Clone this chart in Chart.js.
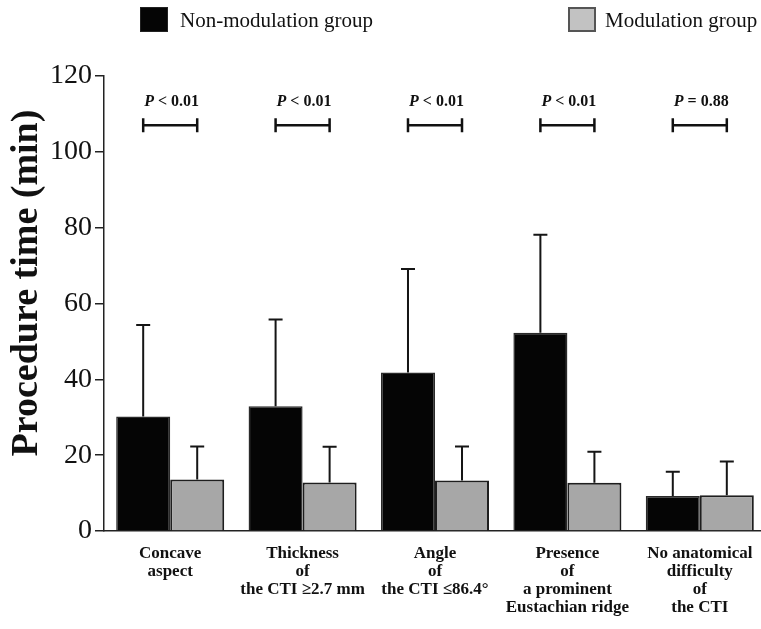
<!DOCTYPE html>
<html>
<head>
<meta charset="utf-8">
<script src="https://cdn.jsdelivr.net/npm/chart.js@4/dist/chart.umd.min.js"></script>
<style>
  html, body { margin: 0; padding: 0; background: #fff; overflow: hidden; width: 761px; height: 629px; }
  #wrap { position: relative; width: 768px; height: 629px; }
  canvas { position: absolute; left: 0; top: 0; }
  .leg { position: absolute; top: 7px; font-family: "Liberation Serif", "Times New Roman", serif; font-size: 21px; color: #111; line-height: 27px; white-space: nowrap; }
  .box { position: absolute; top: 7px; width: 28px; height: 25px; box-sizing: border-box; }
</style>
</head>
<body>
<div id="wrap">
  <canvas id="c" width="768" height="629"></canvas>
  <div class="box" style="left:140px; background:#050505; border:1px solid #222;"></div>
  <div class="leg" style="left:180px;">Non-modulation group</div>
  <div class="box" style="left:568px; background:#c2c2c2; border:2px solid #555;"></div>
  <div class="leg" style="left:605px;">Modulation group</div>
</div>
<script>
const categories = [
  ["Concave", "aspect"],
  ["Thickness", "of", "the CTI \u22652.7 mm"],
  ["Angle", "of", "the CTI \u226486.4\u00b0"],
  ["Presence", "of", "a prominent", "Eustachian ridge"],
  ["No anatomical", "difficulty", "of", "the CTI"]
];
const seriesNames = ["Non-modulation group", "Modulation group"];
const nonModulationMean = [30.2, 32.9, 41.8, 52.3, 9.2];
const nonModulationSD   = [24.1, 22.9, 27.3, 25.8, 6.4];
const modulationMean    = [13.6, 12.8, 13.3, 12.7, 9.4];
const modulationSD      = [8.7, 9.4, 9.0, 8.2, 8.9];
const pValueLabels = ["< 0.01", "< 0.01", "< 0.01", "< 0.01", "= 0.88"];
const yTicks = [0, 20, 40, 60, 80, 100, 120];
const yTitle = "Procedure time (min)";
const bracketLevel = 107;
const pTextLevel = 112;

const SERIF = '"Liberation Serif", "Times New Roman", serif';
const sdByDataset = [nonModulationSD, modulationSD];

const errorBarPlugin = {
  id: 'errorBars',
  afterDatasetsDraw(chart) {
    const ctx = chart.ctx;
    const y = chart.scales.y;
    ctx.save();
    ctx.strokeStyle = '#151515';
    ctx.lineWidth = 2;
    chart.data.datasets.forEach((ds, i) => {
      const meta = chart.getDatasetMeta(i);
      meta.data.forEach((bar, j) => {
        const top = y.getPixelForValue(ds.data[j] + sdByDataset[i][j]);
        ctx.beginPath();
        ctx.moveTo(bar.x, bar.y);
        ctx.lineTo(bar.x, top);
        ctx.moveTo(bar.x - 7, top);
        ctx.lineTo(bar.x + 7, top);
        ctx.stroke();
      });
    });
    // significance brackets
    const m0 = chart.getDatasetMeta(0), m1 = chart.getDatasetMeta(1);
    const by = y.getPixelForValue(bracketLevel);
    const ty = y.getPixelForValue(pTextLevel);
    ctx.lineWidth = 2.5;
    ctx.strokeStyle = '#111';
    ctx.fillStyle = '#111';
    ctx.textBaseline = 'alphabetic';
    m0.data.forEach((b0, j) => {
      const x1 = b0.x, x2 = m1.data[j].x;
      ctx.beginPath();
      ctx.moveTo(x1, by); ctx.lineTo(x2, by);
      ctx.moveTo(x1, by - 7); ctx.lineTo(x1, by + 7);
      ctx.moveTo(x2, by - 7); ctx.lineTo(x2, by + 7);
      ctx.stroke();
      ctx.font = 'italic bold 16px ' + SERIF;
      ctx.textAlign = 'left';
      ctx.fillText('P', x1 + 1, ty);
      const w = ctx.measureText('P').width;
      ctx.font = 'bold 16px ' + SERIF;
      ctx.fillText(' ' + pValueLabels[j], x1 + 1 + w, ty);
    });
    // y axis title
    ctx.save();
    ctx.translate(27, 283);
    ctx.rotate(-Math.PI / 2);
    ctx.font = 'bold 38px ' + SERIF;
    ctx.textAlign = 'center';
    ctx.textBaseline = 'middle';
    ctx.fillText(yTitle, 0, 0);
    ctx.restore();
    ctx.restore();
  }
};

new Chart(document.getElementById('c'), {
  type: 'bar',
  data: {
    labels: categories,
    datasets: [
      { label: seriesNames[0], data: nonModulationMean, backgroundColor: '#050505', borderColor: '#2a2a2a', borderWidth: 1.5 },
      { label: seriesNames[1], data: modulationMean, backgroundColor: '#a7a7a7', borderColor: '#1e1e1e', borderWidth: 2 }
    ]
  },
  options: {
    responsive: false,
    animation: false,
    layout: { padding: { top: 76, right: 2, bottom: 0, left: 0 } },
    datasets: { bar: { barPercentage: 1.0, categoryPercentage: 0.816 } },
    plugins: { legend: { display: false }, tooltip: { enabled: false } },
    scales: {
      x: {
        grid: { display: false, drawTicks: false },
        border: { display: true, color: '#222', width: 1.5 },
        ticks: { color: '#111', padding: 14, maxRotation: 0, autoSkip: false,
                 font: { family: SERIF, size: 17, weight: 'bold', lineHeight: 1.05 } },
        afterFit(s) { s.height = 98; }
      },
      y: {
        min: 0, max: 120,
        afterBuildTicks(s) { s.ticks = yTicks.map(v => ({ value: v })); },
        grid: { drawOnChartArea: false, drawTicks: true, tickLength: 9, color: '#222', lineWidth: 1.5 },
        border: { display: true, color: '#222', width: 1.5 },
        ticks: { color: '#111', padding: 3, font: { family: SERIF, size: 28 } },
        title: { display: false },
        afterFit(s) { s.width = 104; }
      }
    }
  },
  plugins: [errorBarPlugin]
});
</script>
</body>
</html>
